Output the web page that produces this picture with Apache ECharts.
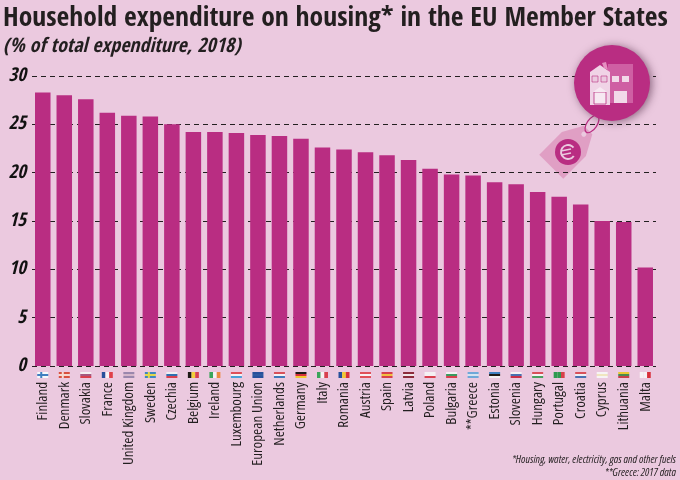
<!DOCTYPE html>
<html>
<head>
<meta charset="utf-8">
<style>html,body{margin:0;padding:0;background:#ebc9df}#chart{width:680px;height:480px}</style>
<script src="https://cdn.jsdelivr.net/npm/echarts@6/dist/echarts.min.js"></script>
</head>
<body>
<div id="chart"></div>
<script>
var countries = ['Finland','Denmark','Slovakia','France','United Kingdom','Sweden','Czechia','Belgium','Ireland','Luxembourg','European Union','Netherlands','Germany','Italy','Romania','Austria','Spain','Latvia','Poland','Bulgaria','**Greece','Estonia','Slovenia','Hungary','Portugal','Croatia','Cyprus','Lithuania','Malta'];
var housingShare = [28.3,28.0,27.6,26.2,25.9,25.8,25.0,24.2,24.2,24.1,23.9,23.8,23.5,22.6,22.4,22.1,21.8,21.3,20.4,19.8,19.7,19.0,18.8,18.0,17.5,16.7,15.0,14.9,10.2];
// h = stripes top to bottom, v = stripes left to right
var flagDirs = ['h','h','h','v','h','h','h','v','v','h','h','h','h','v','v','h','h','h','h','h','h','h','h','h','v','h','h','h','v'];
var flagColours = [
    ['#f4f8fb','#3f7fc0','#f4f8fb'],['#d8503f','#f6d9d0','#d8503f'],['#f4f0f2','#a55a80','#d8404f'],['#27509b','#f7f2f5','#e0404a'],
    ['#9a87ad','#d5b6cb','#9a87ad'],['#3f87c0','#e3d84a','#3f87c0'],['#f0eef2','#2f6fb0','#d8404f'],['#1f1a17','#f2d03a','#d8404f'],
    ['#3aa55a','#f6f2f3','#ec8a40'],['#e0505a','#f7f1f4','#4aa0d8'],['#27509b','#2f5aa0','#27509b'],['#d8505a','#f7f1f4','#3f78b8'],
    ['#1f1a17','#d8303a','#f0c830'],['#3aa55a','#f6f2f3','#d8404f'],['#27509b','#f0c830','#d8303a'],['#e0505a','#f7f1f4','#e0505a'],
    ['#d8404a','#f0c040','#d8404a'],['#8c2c3c','#f0e6e8','#8c2c3c'],['#f5f0f3','#f5f0f3','#d8404f'],['#f5f0f3','#3a9a60','#d8404f'],
    ['#6fa8d8','#d5e3f0','#6fa8d8'],['#3f7fc0','#1f1a17','#f5f0f3'],['#f5f0f3','#4a70b0','#c83048'],['#d8505a','#f7f1f4','#4aa060'],
    ['#2f9a50','#2f9a50','#d8404a'],['#d8505a','#f0eef2','#4a70b0'],['#f7f3f5','#f0e6c0','#f7f3f5'],['#e8c830','#4a8a50','#c84048'],
    ['#f7f1f4','#f7f1f4','#d8303a']
];
// Nordic flags get an upright bar on top of the stripes
var crossFlags = ['Finland','Denmark','Sweden'];

var chart = echarts.init(document.getElementById('chart'));

function renderFlag(params, api) {
    var i = api.value(0);
    var p = api.coord([i, 0]);
    var w = 11, h = 6, x = p[0] - w / 2, y = p[1] + 6;
    var dir = flagDirs[i];
    var kids = flagColours[i].map(function (c, k) {
        return {
            type: 'rect',
            shape: dir === 'h'
                ? { x: x, y: y + k * h / 3, width: w, height: h / 3 }
                : { x: x + k * w / 3, y: y, width: w / 3, height: h },
            style: { fill: c }
        };
    });
    if (crossFlags.indexOf(countries[i]) >= 0) {
        kids.push({
            type: 'rect',
            shape: { x: x + 3, y: y, width: 2, height: h },
            style: { fill: flagColours[i][1] }
        });
    }
    return { type: 'group', children: kids };
}

var darkPink = '#b92d82';
var boldFont = 'Open Sans Condensed';
var thinFont = 'Open Sans';
var option = {
    animation: false,
    backgroundColor: '#ebc9df',
    title: [
        {
            text: 'Household expenditure on housing* in the EU Member States',
            left: 3, top: 5, padding: 0,
            textStyle: { fontFamily: boldFont, fontWeight: 'bold', fontSize: 27.6, color: '#231f20' }
        },
        {
            text: '(% of total expenditure, 2018)',
            left: 3, top: 37, padding: 0,
            textStyle: { fontFamily: boldFont, fontWeight: 'bold', fontStyle: 'italic', fontSize: 20, color: '#231f20' }
        },
        {
            text: '*Housing, water, electricity, gas and other fuels',
            right: 4, top: 454, padding: 0,
            textStyle: { fontFamily: thinFont, fontStyle: 'italic', fontWeight: 'condensed', fontSize: 11, color: '#231f20' }
        },
        {
            text: '**Greece: 2017 data',
            right: 4, top: 467, padding: 0,
            textStyle: { fontFamily: thinFont, fontStyle: 'italic', fontWeight: 'condensed', fontSize: 11, color: '#231f20' }
        }
    ],
    grid: { left: 32, right: 24, top: 76, bottom: 114, outerBoundsMode: 'none' },
    xAxis: {
        type: 'category',
        data: countries,
        axisLine: { show: false },
        axisTick: { show: false },
        axisLabel: {
            interval: 0, rotate: 90, margin: 16,
            fontFamily: thinFont, fontWeight: 'condensed', fontSize: 15, color: '#231f20'
        }
    },
    yAxis: {
        type: 'value',
        min: 0, max: 30, interval: 5,
        axisLine: { show: false },
        axisTick: { show: false },
        axisLabel: {
            margin: 6,
            fontFamily: boldFont, fontWeight: 'bold', fontStyle: 'italic', fontSize: 19, color: '#111'
        },
        splitLine: { lineStyle: { color: '#231f20', type: [5, 4], width: 1 } }
    },
    series: [
        {
            type: 'bar',
            data: housingShare,
            barWidth: 15.5,
            itemStyle: { color: darkPink },
            z: 3
        },
        {
            type: 'custom',
            clip: false,
            silent: true,
            data: countries.map(function (c, i) { return [i, 0]; }),
            encode: { x: 0, y: 1 },
            renderItem: renderFlag,
            z: 4
        }
    ],
    graphic: [
        // price tag
        { type: 'group', x: 564, y: 154, rotation: Math.PI / 4, z: 20, children: [
            { type: 'polygon', shape: { points: [[-18,-17],[14,-17],[34,-6],[34,6],[14,17],[-18,17]] }, style: { fill: '#e09fc4' } },
            { type: 'circle', shape: { cx: 28, cy: 0, r: 2.5 }, style: { fill: '#ebc9df' } }
        ] },
        { type: 'circle', shape: { cx: 568, cy: 152, r: 13 }, style: { fill: darkPink }, z: 21 },
        { type: 'arc', shape: { cx: 568, cy: 152, r: 7, startAngle: 0.6, endAngle: 5.6 }, style: { fill: 'none', stroke: '#ebc9df', lineWidth: 2 }, z: 22 },
        { type: 'line', shape: { x1: 561, y1: 151, x2: 571, y2: 149 }, style: { stroke: '#ebc9df', lineWidth: 1.5 }, z: 22 },
        { type: 'line', shape: { x1: 561, y1: 155, x2: 571, y2: 153 }, style: { stroke: '#ebc9df', lineWidth: 1.5 }, z: 22 },
        // string from tag to circle
        { type: 'ellipse', shape: { cx: 592, cy: 124, rx: 5, ry: 10 }, rotation: -0.6, originX: 592, originY: 124, style: { fill: 'none', stroke: darkPink, lineWidth: 1.2 }, z: 23 },
        // house badge
        { type: 'circle', shape: { cx: 612, cy: 83, r: 38 }, style: { fill: darkPink, shadowBlur: 8, shadowColor: 'rgba(60,20,50,0.55)', shadowOffsetX: 2, shadowOffsetY: 1 }, z: 24 },
        { type: 'rect', shape: { x: 608, y: 64, width: 25, height: 39 }, style: { fill: '#cf5fa3' }, z: 25 },
        { type: 'polygon', shape: { points: [[590,72],[600,65],[610,72],[610,105],[590,105]] }, style: { fill: '#f0d3e6' }, z: 25 },
        { type: 'polygon', shape: { points: [[602,63],[606,62],[608,70],[604,68]] }, style: { fill: '#e58fc0' }, z: 26 },
        { type: 'rect', shape: { x: 592, y: 76, width: 6, height: 6 }, style: { fill: '#ebc9df', stroke: '#b92d82', lineWidth: 0.6 }, z: 26 },
        { type: 'rect', shape: { x: 601, y: 76, width: 6, height: 6 }, style: { fill: '#ebc9df', stroke: '#b92d82', lineWidth: 0.6 }, z: 26 },
        { type: 'rect', shape: { x: 612, y: 76, width: 7, height: 6 }, style: { fill: '#f2d9e9' }, z: 26 },
        { type: 'rect', shape: { x: 622, y: 76, width: 7, height: 6 }, style: { fill: '#f2d9e9' }, z: 26 },
        { type: 'rect', shape: { x: 594, y: 92, width: 12, height: 12 }, style: { fill: '#f7e9f2', stroke: '#b92d82', lineWidth: 0.8 }, z: 26 },
        { type: 'polygon', shape: { points: [[593,92],[600,87],[607,92]] }, style: { fill: '#f7e9f2' }, z: 26 },
        { type: 'rect', shape: { x: 614, y: 91, width: 13, height: 12 }, style: { fill: '#f2d9e9' }, z: 26 }
    ]
};
chart.setOption(option);
</script>
</body>
</html>
